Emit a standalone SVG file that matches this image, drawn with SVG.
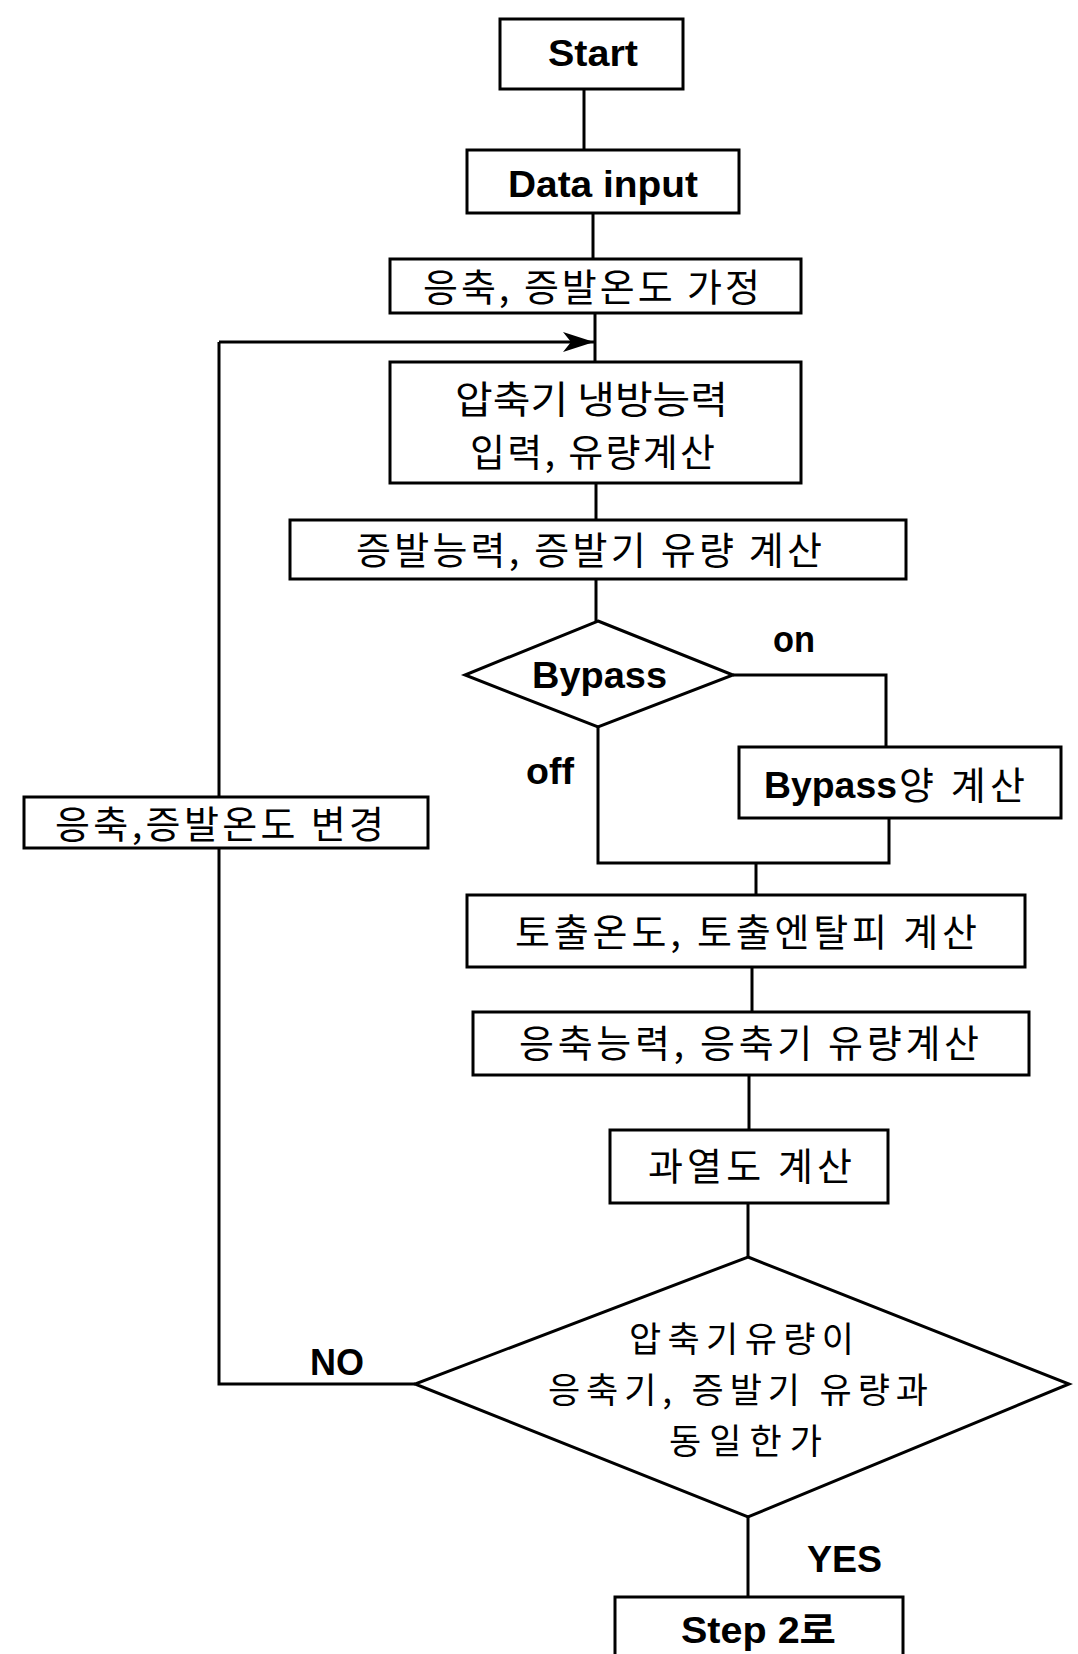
<svg xmlns="http://www.w3.org/2000/svg" width="1078" height="1654" viewBox="0 0 1078 1654">
<style>
.box{fill:#fff;stroke:#000;stroke-width:3}
.ln{fill:none;stroke:#000;stroke-width:3}
.en{font-family:"Liberation Sans",Arial,sans-serif;font-weight:bold;font-size:36px;fill:#000}
.ko{font-family:"Noto Sans CJK KR","Noto Sans",sans-serif;font-size:38px;fill:#000}
.kod{font-family:"Noto Sans CJK KR","Noto Sans",sans-serif;font-size:35px;fill:#000}
.kob{font-family:"Noto Sans CJK KR","Noto Sans",sans-serif;font-size:36px;font-weight:bold;fill:#000}
</style>
<defs>
<marker id="arr" markerUnits="userSpaceOnUse" markerWidth="34" markerHeight="24" refX="31" refY="12" orient="auto">
<path d="M0,2 L31,12 L0,22 L8,12 Z" fill="#000"/>
</marker>
</defs>
<rect width="1078" height="1654" fill="#fff"/>
<g id="connectors">
<path class="ln" d="M584,89 V150"/>
<path class="ln" d="M593,213 V259"/>
<path class="ln" d="M595,313 V362"/>
<path class="ln" d="M219,342 H594" marker-end="url(#arr)"/>
<path class="ln" d="M596,483 V520"/>
<path class="ln" d="M596,579 V621"/>
<path class="ln" d="M733,675 H886 V747"/>
<path class="ln" d="M598,727 V863 H889 V818"/>
<path class="ln" d="M756,863 V895"/>
<path class="ln" d="M752,967 V1012"/>
<path class="ln" d="M749,1075 V1130"/>
<path class="ln" d="M748,1203 V1257"/>
<path class="ln" d="M415,1384 H219 V848"/>
<path class="ln" d="M219,797 V342"/>
<path class="ln" d="M748,1517 V1597"/>
<text class="en" x="773" y="652" textLength="42" lengthAdjust="spacingAndGlyphs">on</text>
<text class="en" x="526" y="784" textLength="48" lengthAdjust="spacingAndGlyphs">off</text>
<text class="en" x="310" y="1375" textLength="54" lengthAdjust="spacingAndGlyphs">NO</text>
<text class="en" x="807" y="1572" textLength="75" lengthAdjust="spacingAndGlyphs">YES</text>
</g>
<g id="start">
<rect class="box" x="500" y="19" width="183" height="70"/>
<text class="en" x="548" y="66" textLength="90" lengthAdjust="spacingAndGlyphs">Start</text>
</g>
<g id="data-input">
<rect class="box" x="467" y="150" width="272" height="63"/>
<text class="en" x="508" y="197" textLength="190" lengthAdjust="spacingAndGlyphs">Data input</text>
</g>
<g id="assume-temp">
<rect class="box" x="390" y="259" width="411" height="54"/>
<text class="ko" x="423" y="301" textLength="337" lengthAdjust="spacing">응축, 증발온도 가정</text>
</g>
<g id="compressor">
<rect class="box" x="390" y="362" width="411" height="121"/>
<text class="ko" x="455" y="413" textLength="273" lengthAdjust="spacingAndGlyphs">압축기 냉방능력</text>
<text class="ko" x="470" y="466" textLength="245" lengthAdjust="spacing">입력, 유량계산</text>
</g>
<g id="evaporator">
<rect class="box" x="290" y="520" width="616" height="59"/>
<text class="ko" x="356" y="564" textLength="466" lengthAdjust="spacing">증발능력, 증발기 유량 계산</text>
</g>
<g id="bypass-decision">
<polygon class="box" points="598,621 733,675 598,727 465,675"/>
<text class="en" x="532" y="688" textLength="135" lengthAdjust="spacingAndGlyphs">Bypass</text>
</g>
<g id="bypass-calc">
<rect class="box" x="739" y="747" width="322" height="71"/>
<text class="en" x="764" y="798" textLength="133" lengthAdjust="spacingAndGlyphs">Bypass</text>
<text class="ko" x="899" y="799" textLength="126" lengthAdjust="spacing">양 계산</text>
</g>
<g id="change-temp">
<rect class="box" x="24" y="797" width="404" height="51"/>
<text class="ko" x="55" y="838" textLength="329" lengthAdjust="spacing">응축,증발온도 변경</text>
</g>
<g id="discharge">
<rect class="box" x="467" y="895" width="558" height="72"/>
<text class="ko" x="515" y="946" textLength="462" lengthAdjust="spacing">토출온도, 토출엔탈피 계산</text>
</g>
<g id="condenser">
<rect class="box" x="473" y="1012" width="556" height="63"/>
<text class="ko" x="519" y="1057" textLength="460" lengthAdjust="spacing">응축능력, 응축기 유량계산</text>
</g>
<g id="superheat">
<rect class="box" x="610" y="1130" width="278" height="73"/>
<text class="ko" x="648" y="1180" textLength="204" lengthAdjust="spacing">과열도 계산</text>
</g>
<g id="flow-check">
<polygon class="box" points="748,1257 1069,1384 748,1517 415,1384"/>
<text class="kod" x="629" y="1352" textLength="225" lengthAdjust="spacing">압축기유량이</text>
<text class="kod" x="548" y="1403" textLength="380" lengthAdjust="spacing">응축기, 증발기 유량과</text>
<text class="kod" x="669" y="1454" textLength="153" lengthAdjust="spacing">동일한가</text>
</g>
<g id="step2">
<rect class="box" x="615" y="1597" width="288" height="80"/>
<text x="681" y="1643" textLength="155" lengthAdjust="spacingAndGlyphs"><tspan class="en">Step 2</tspan><tspan class="kob">로</tspan></text>
</g>
</svg>
